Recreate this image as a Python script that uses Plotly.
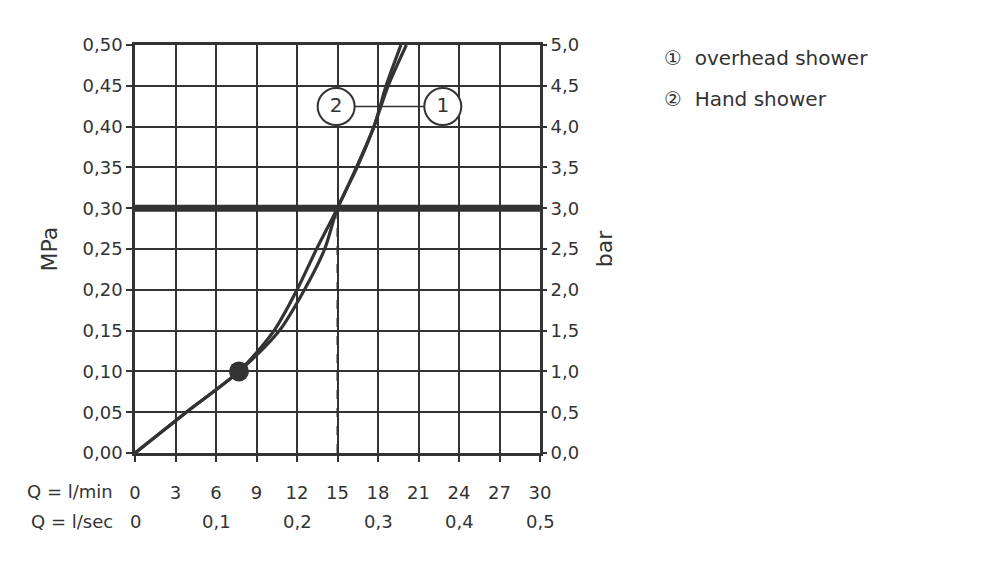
import plotly.graph_objects as go

# Durchfluss (l/min) gegen Druck (MPa)
druck = [0, 0.05, 0.10, 0.15, 0.20, 0.25, 0.30, 0.35, 0.40, 0.45, 0.50]
flow_overhead = [0, 3.8, 7.7, 10.7, 12.55, 14.05, 15.0, 16.45, 17.7, 18.75, 20.1]
flow_hand = [0, 3.8, 7.7, 10.3, 12.0, 13.45, 15.0, 16.4, 17.7, 18.6, 19.7]

dot_x = [7.7]
dot_y = [0.10]

ref_druck = 0.30
ref_flow = 15

label_x = [14.9, 22.8]
label_y = [0.4245, 0.4245]
label_txt = ["2", "1"]

lmin_ticks = [0, 3, 6, 9, 12, 15, 18, 21, 24, 27, 30]
lsec_pos = [0, 6, 12, 18, 24, 30]
lsec_txt = ["0", "0,1", "0,2", "0,3", "0,4", "0,5"]

legend_txt = ["\u2460  overhead shower", "\u2461  Hand shower"]

farbe = "#333333"
schrift = "DejaVu Sans"

fig = go.Figure()

fig.add_scatter(x=flow_hand, y=druck, mode="lines", line=dict(color=farbe, width=3.2, shape="spline", smoothing=0.8),
                showlegend=False, hoverinfo="skip")
fig.add_scatter(x=flow_overhead, y=druck, mode="lines", line=dict(color=farbe, width=3.2, shape="spline", smoothing=0.8),
                showlegend=False, hoverinfo="skip")
fig.add_scatter(x=dot_x, y=dot_y, mode="markers", marker=dict(color=farbe, size=20),
                showlegend=False, hoverinfo="skip")

# Verbindungslinie + Kreise
fig.add_scatter(x=label_x, y=label_y, mode="lines", line=dict(color=farbe, width=1.5),
                showlegend=False, hoverinfo="skip")
fig.add_scatter(x=label_x, y=label_y, mode="markers+text", text=label_txt, textposition="middle center",
                textfont=dict(family=schrift, size=20, color=farbe),
                marker=dict(symbol="circle", size=37, color="white", line=dict(color=farbe, width=2)),
                showlegend=False, hoverinfo="skip")

# unsichtbar, damit die bar-Achse gezeichnet wird
fig.add_scatter(x=[0], y=[0], yaxis="y2", mode="markers", marker=dict(opacity=0),
                showlegend=False, hoverinfo="skip")

fig.add_shape(type="line", x0=0, x1=30, y0=ref_druck, y1=ref_druck, line=dict(color=farbe, width=7))
fig.add_shape(type="line", x0=ref_flow, x1=ref_flow, y0=0, y1=ref_druck, line=dict(color=farbe, width=2, dash="dash"))

fig.update_layout(
    width=1000, height=563,
    margin=dict(l=127, r=468, t=37, b=118),
    paper_bgcolor="white", plot_bgcolor="white",
    separators=",.",
    font=dict(family=schrift, size=18, color=farbe),
    xaxis=dict(range=[0, 30], tickvals=lmin_ticks, showgrid=True, gridcolor=farbe, gridwidth=2.3,
               showline=True, linecolor=farbe, linewidth=2.5, mirror=True, zeroline=False,
               ticks="outside", ticklen=6, tickwidth=2, tickcolor=farbe, ticklabelstandoff=16),
    yaxis=dict(range=[0, 0.5], dtick=0.05, tickformat=".2f", showgrid=True, gridcolor=farbe, gridwidth=2.3,
               showline=True, linecolor=farbe, linewidth=2.5, mirror=True, zeroline=False,
               ticks="outside", ticklen=6, tickwidth=2, tickcolor=farbe,
               title=dict(text="MPa", standoff=19)),
    yaxis2=dict(range=[0, 5], dtick=0.5, tickformat=".1f", overlaying="y", side="right", showgrid=False,
                zeroline=False, ticks="outside", ticklen=6, tickwidth=2, tickcolor=farbe,
                title=dict(text="bar", standoff=18)),
)

fig.add_annotation(x=0, y=-0.095, xref="x", yref="paper", text="Q = l/min", showarrow=False,
                   xanchor="right", yanchor="middle", xshift=-20)
fig.add_annotation(x=0, y=-0.168, xref="x", yref="paper", text="Q = l/sec", showarrow=False,
                   xanchor="right", yanchor="middle", xshift=-20)
for p, t in zip(lsec_pos, lsec_txt):
    fig.add_annotation(x=p, y=-0.168, xref="x", yref="paper", text=t, showarrow=False,
                       xanchor="center", yanchor="middle")

for i, t in enumerate(legend_txt):
    fig.add_annotation(x=1.3, y=0.968 - i * 0.1, xref="paper", yref="paper", text=t, showarrow=False,
                       xanchor="left", yanchor="middle", font=dict(size=20))

fig.write_html("out.html")
